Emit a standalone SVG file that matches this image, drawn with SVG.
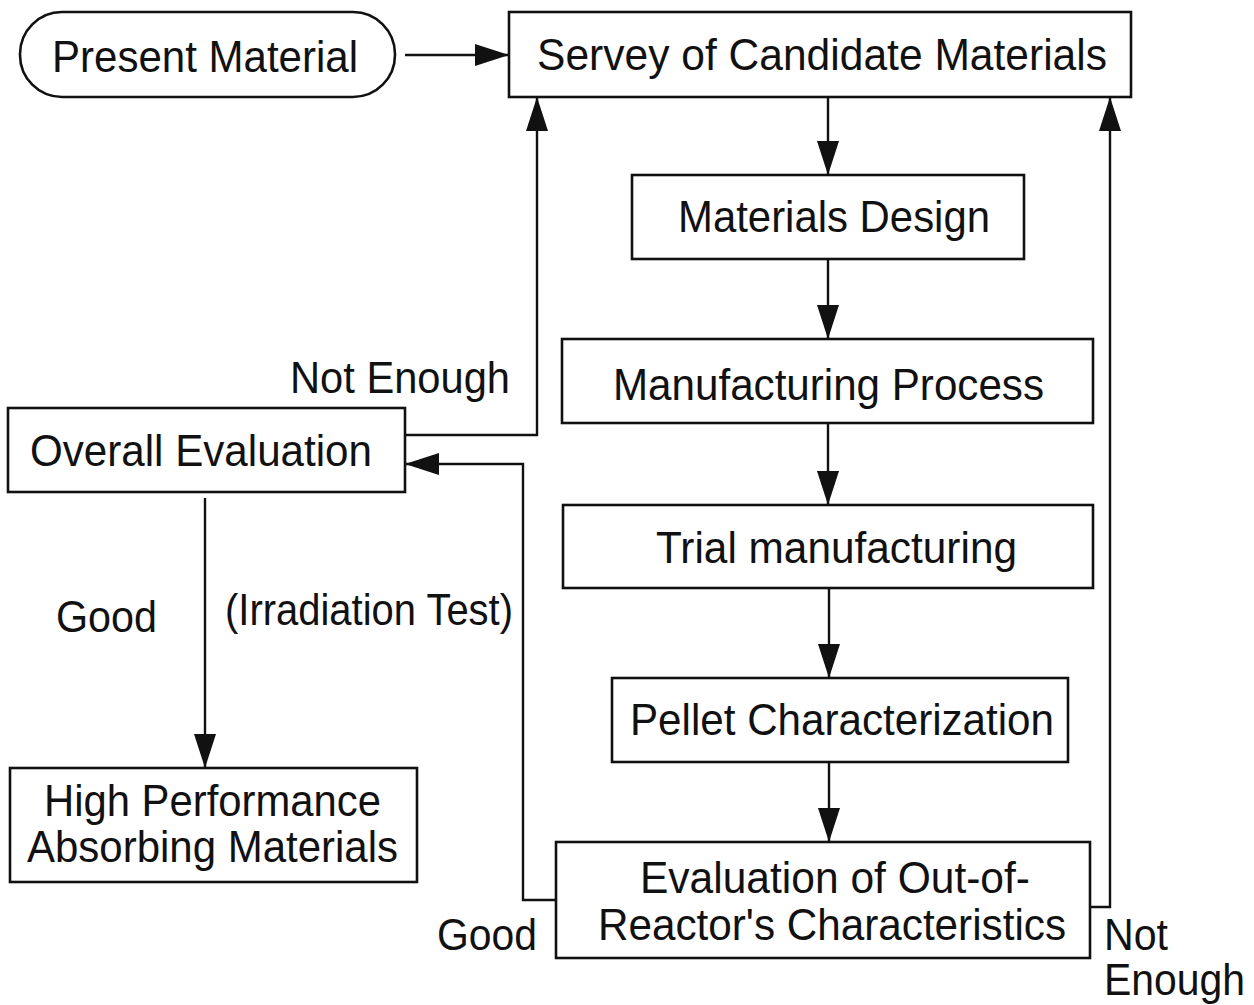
<svg xmlns="http://www.w3.org/2000/svg" width="1254" height="1005" viewBox="0 0 1254 1005">
  <style>
    .box { fill: #ffffff; stroke: #111111; stroke-width: 2.6; }
    .wire { fill: none; stroke: #111111; stroke-width: 2.4; }
    text { font-family: "Liberation Sans", Arial, Helvetica, sans-serif; font-size: 44px; fill: #111111; }
  </style>
  <defs>
    <marker id="arrow" viewBox="0 0 34 22" refX="34" refY="11" markerWidth="34" markerHeight="22" markerUnits="userSpaceOnUse" orient="auto">
      <path d="M0,0 L34,11 L0,22 Z" fill="#111111"/>
    </marker>
  </defs>

  <rect width="1254" height="1005" fill="#ffffff"/>

  <!-- connectors -->
  <g id="connectors">
    <line class="wire" x1="405" y1="55" x2="509" y2="55" marker-end="url(#arrow)"/>
    <line class="wire" x1="828" y1="97" x2="828" y2="175" marker-end="url(#arrow)"/>
    <line class="wire" x1="828" y1="259" x2="828" y2="339" marker-end="url(#arrow)"/>
    <line class="wire" x1="828" y1="423" x2="828" y2="505" marker-end="url(#arrow)"/>
    <line class="wire" x1="829" y1="588" x2="829" y2="678" marker-end="url(#arrow)"/>
    <line class="wire" x1="829" y1="762" x2="829" y2="842" marker-end="url(#arrow)"/>
    <!-- Overall Evaluation: Not Enough, back to the survey -->
    <polyline class="wire" points="405,435 537,435 537,97" marker-end="url(#arrow)"/>
    <!-- Out-of-reactor evaluation: Good, on to overall evaluation -->
    <polyline class="wire" points="556,900 523,900 523,464 405,464" marker-end="url(#arrow)"/>
    <!-- Out-of-reactor evaluation: Not Enough, back to the survey -->
    <polyline class="wire" points="1090,907 1110,907 1110,97" marker-end="url(#arrow)"/>
    <!-- Overall Evaluation: Good -->
    <line class="wire" x1="205" y1="498" x2="205" y2="768" marker-end="url(#arrow)"/>
  </g>

  <!-- nodes -->
  <g id="present-material">
    <rect class="box" x="20" y="12" width="375" height="85" rx="42" ry="42"/>
    <text x="52" y="72" textLength="306" lengthAdjust="spacingAndGlyphs">Present Material</text>
  </g>
  <g id="survey">
    <rect class="box" x="509" y="12" width="622" height="85"/>
    <text x="537" y="70" textLength="570" lengthAdjust="spacingAndGlyphs">Servey of Candidate Materials</text>
  </g>
  <g id="materials-design">
    <rect class="box" x="632" y="175" width="392" height="84"/>
    <text x="678" y="232" textLength="312" lengthAdjust="spacingAndGlyphs">Materials Design</text>
  </g>
  <g id="manufacturing-process">
    <rect class="box" x="562" y="339" width="531" height="84"/>
    <text x="613" y="400" textLength="431" lengthAdjust="spacingAndGlyphs">Manufacturing Process</text>
  </g>
  <g id="trial-manufacturing">
    <rect class="box" x="563" y="505" width="530" height="83"/>
    <text x="656" y="563" textLength="361" lengthAdjust="spacingAndGlyphs">Trial manufacturing</text>
  </g>
  <g id="pellet-characterization">
    <rect class="box" x="612" y="678" width="456" height="84"/>
    <text x="630" y="735" textLength="424" lengthAdjust="spacingAndGlyphs">Pellet Characterization</text>
  </g>
  <g id="out-of-reactor">
    <rect class="box" x="556" y="842" width="534" height="116"/>
    <text x="640" y="893" textLength="390" lengthAdjust="spacingAndGlyphs">Evaluation of Out-of-</text>
    <text x="598" y="940" textLength="468" lengthAdjust="spacingAndGlyphs">Reactor's Characteristics</text>
  </g>
  <g id="overall-evaluation">
    <rect class="box" x="8" y="408" width="397" height="84"/>
    <text x="30" y="466" textLength="342" lengthAdjust="spacingAndGlyphs">Overall Evaluation</text>
  </g>
  <g id="high-performance">
    <rect class="box" x="10" y="768" width="407" height="114"/>
    <text x="44" y="816" textLength="337" lengthAdjust="spacingAndGlyphs">High Performance</text>
    <text x="27" y="862" textLength="371" lengthAdjust="spacingAndGlyphs">Absorbing Materials</text>
  </g>

  <!-- connector labels -->
  <g id="labels">
    <text x="290" y="393" textLength="220" lengthAdjust="spacingAndGlyphs">Not Enough</text>
    <text x="56" y="632" textLength="101" lengthAdjust="spacingAndGlyphs">Good</text>
    <text x="225" y="625" textLength="288" lengthAdjust="spacingAndGlyphs">(Irradiation Test)</text>
    <text x="437" y="950" textLength="100" lengthAdjust="spacingAndGlyphs">Good</text>
    <text x="1104" y="950" textLength="64" lengthAdjust="spacingAndGlyphs">Not</text>
    <text x="1104" y="995" textLength="141" lengthAdjust="spacingAndGlyphs">Enough</text>
  </g>
</svg>
